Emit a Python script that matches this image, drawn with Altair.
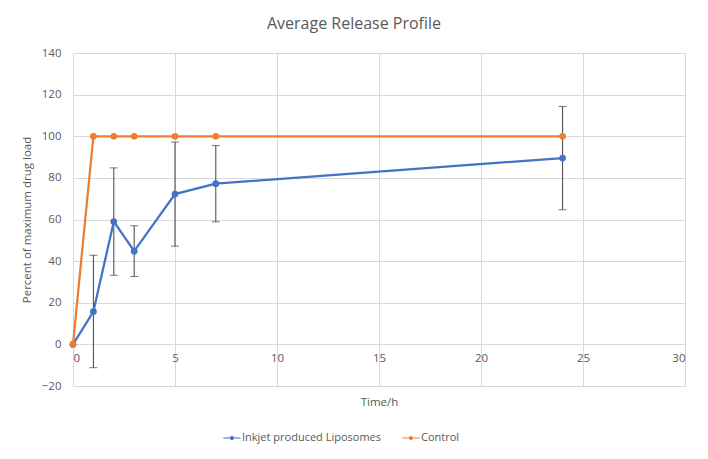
import altair as alt
import pandas as pd

time_h = [0, 1, 2, 3, 5, 7, 24]
inkjet = [0, 15.8, 59, 44.8, 72.2, 77.2, 89.5]
inkjet_err = [0, 27, 25.8, 12.2, 25, 18.3, 24.8]
control = [0, 100, 100, 100, 100, 100, 100]
series_names = ["Inkjet produced Liposomes", "Control"]
colors = ["#4472C4", "#ED7D31"]

rows = []
for t, v, e in zip(time_h, inkjet, inkjet_err):
    rows.append({"t": t, "v": v, "lo": v - e, "hi": v + e, "s": series_names[0], "o": 0})
for t, v in zip(time_h, control):
    rows.append({"t": t, "v": v, "lo": v, "hi": v, "s": series_names[1], "o": 1})
df = pd.DataFrame(rows)
err_df = df[(df.s == series_names[0]) & (df.t > 0)]

font = "Open Sans"
grey = "#595959"

x_scale = alt.Scale(domain=[0, 30], nice=False)
y_scale = alt.Scale(domain=[-20, 140], nice=False)

legend_symbol = ("M-1,-0.06 H1 V0.06 H-1 Z "
                 "M0.24,0 A0.24,0.24 0 1 1 -0.24,0 A0.24,0.24 0 1 1 0.24,0 Z")

x_enc = alt.X("t:Q", scale=x_scale, title="Time/h",
              axis=alt.Axis(values=[0, 5, 10, 15, 20, 25, 30], offset=-42,
                            titlePadding=33, labelPadding=8, ticks=False,
                            domain=True, domainColor="#d9d9d9",
                            gridColor="#d9d9d9", labelColor=grey, titleColor=grey,
                            labelFont=font, titleFont=font, labelFontSize=11.5,
                            titleFontSize=11.5, titleFontWeight="normal"))
y_enc = alt.Y("v:Q", scale=y_scale, title="Percent of maximum drug load",
              axis=alt.Axis(values=list(range(-20, 141, 20)), ticks=False, domain=False,
                            gridColor="#d9d9d9", labelColor=grey, titleColor=grey,
                            labelFont=font, titleFont=font, labelFontSize=11.5,
                            titleFontSize=11.5, titleFontWeight="normal",
                            labelPadding=12, titlePadding=9))

color_enc = alt.Color("s:N", scale=alt.Scale(domain=series_names, range=colors),
                      legend=alt.Legend(title=None, orient="none", direction="horizontal",
                                        legendX=150, legendY=376,
                                        symbolType=legend_symbol, symbolSize=300,
                                        symbolStrokeWidth=0, labelFont=font,
                                        labelFontSize=11, labelColor=grey,
                                        columnPadding=20, labelOffset=1))

err_rule = alt.Chart(err_df).mark_rule(color="#404040", strokeWidth=1).encode(
    x=alt.X("t:Q", scale=x_scale), y=alt.Y("lo:Q", scale=y_scale), y2="hi:Q")
cap_lo = alt.Chart(err_df).mark_tick(color="#404040", thickness=1, size=8, orient="horizontal").encode(
    x=alt.X("t:Q", scale=x_scale), y=alt.Y("lo:Q", scale=y_scale))
cap_hi = alt.Chart(err_df).mark_tick(color="#404040", thickness=1, size=8, orient="horizontal").encode(
    x=alt.X("t:Q", scale=x_scale), y=alt.Y("hi:Q", scale=y_scale))

lines = alt.Chart(df).mark_line(strokeWidth=2.25, point=alt.OverlayMarkDef(size=45, filled=True, opacity=1)).encode(
    x=x_enc, y=y_enc, color=color_enc, order="t:Q", detail="s:N")

chart = alt.layer(err_rule, cap_lo, cap_hi, lines).properties(
    width=612, height=333,
    title=alt.TitleParams("Average Release Profile", font=font, fontSize=16,
                          fontWeight="normal", color=grey, offset=15, dx=-25),
    autosize=alt.AutoSizeParams(type="none"),
    padding={"left": 65, "top": 45, "right": 15, "bottom": 65},
).configure_view(stroke=None).configure(background="white")

chart.save("out.html", embed_options={"renderer": "svg", "actions": False})
